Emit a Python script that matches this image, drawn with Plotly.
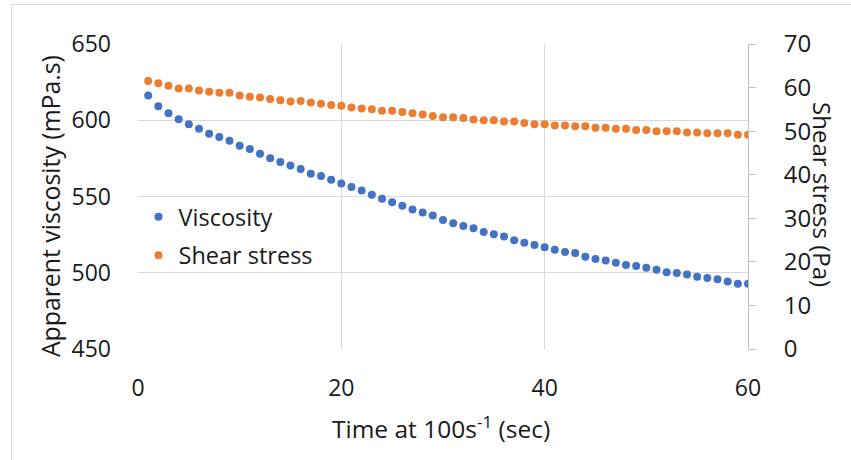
import plotly.graph_objects as go

time_s = list(range(1, 61))

viscosity = [
    616.2, 609.2, 604.6, 600.7, 597.4, 594.5, 591.2, 589.0, 586.6, 583.3,
    581.1, 578.1, 575.0, 572.6, 570.4, 568.0, 564.9, 563.4, 561.0, 558.6,
    556.3, 553.9, 551.1, 548.6, 546.3, 543.9, 541.4, 539.5, 537.5, 534.6,
    532.5, 530.7, 529.2, 526.8, 525.2, 523.7, 521.3, 519.7, 518.2, 516.7,
    515.1, 513.6, 512.9, 510.5, 509.0, 508.1, 506.6, 505.0, 504.4, 503.3,
    502.0, 500.4, 499.8, 498.9, 497.4, 496.5, 495.8, 494.3, 492.8, 492.8,
]

shear_stress = [
    61.5, 61.0, 60.4, 59.8, 59.8, 59.3, 59.05, 58.8, 58.8, 58.2,
    57.9, 57.7, 57.4, 57.1, 56.8, 56.9, 56.6, 56.3, 56.0, 55.8,
    55.45, 55.2, 55.0, 54.7, 54.7, 54.4, 54.1, 53.8, 53.5, 53.2,
    53.2, 53.0, 52.7, 52.5, 52.5, 52.2, 52.2, 51.85, 51.6, 51.6,
    51.3, 51.3, 51.1, 51.1, 50.8, 50.8, 50.55, 50.55, 50.25, 50.25,
    50.0, 50.0, 50.0, 49.7, 49.7, 49.5, 49.5, 49.5, 49.2, 49.2,
]

x_ticks = [0, 20, 40, 60]
y_left_ticks = [450, 500, 550, 600, 650]
y_right_ticks = [0, 10, 20, 30, 40, 50, 60, 70]

FONT = "Open Sans"
TXT = "#1a1a1a"
GRID = "#D9D9D9"

fig = go.Figure()
fig.add_trace(go.Scatter(
    x=time_s, y=viscosity, mode="markers", name="Viscosity",
    marker=dict(color="#4472C4", size=8), legendgroup="a",
))
fig.add_trace(go.Scatter(
    x=time_s, y=shear_stress, mode="markers", name="Shear stress",
    marker=dict(color="#ED7D31", size=8), yaxis="y2", legendgroup="b",
))

W, H = 851, 460
L, R, T, B = 137.5, 748, 44, 349
pw, ph = R - L, B - T


def px(x):
    return (x - L) / pw


def py(y):
    return (B - y) / ph


fig.update_layout(
    width=W, height=H,
    margin=dict(l=L, r=W - R, t=T, b=H - B, autoexpand=False),
    paper_bgcolor="white", plot_bgcolor="white",
    font=dict(family=FONT, size=23, color=TXT),
    xaxis=dict(
        range=[0, 60], tickvals=x_ticks, showgrid=True, gridcolor=GRID,
        gridwidth=1, zeroline=False, showline=False, ticks="",
        ticklabelstandoff=23, tickfont=dict(size=23, color=TXT),
    ),
    yaxis=dict(
        range=[450, 650], tickvals=y_left_ticks, showgrid=True, gridcolor=GRID,
        gridwidth=1, zeroline=False, showline=False, ticks="",
        ticklabelstandoff=26, tickfont=dict(size=23, color=TXT),
    ),
    yaxis2=dict(
        range=[0, 70], tickvals=y_right_ticks, overlaying="y", side="right",
        showgrid=False, zeroline=False, showline=True, linecolor="#BFBFBF",
        linewidth=1, ticks="outside", ticklen=7, tickcolor="#BFBFBF",
        ticklabelstandoff=23, tickfont=dict(size=24, color=TXT),
    ),
    showlegend=True,
    legend=dict(
        x=px(138), y=py(236.5), xanchor="left", yanchor="middle",
        bgcolor="rgba(255,255,255,0)", font=dict(size=23.5, color=TXT),
        traceorder="grouped", tracegroupgap=5, itemwidth=30,
    ),
    annotations=[
        dict(text="Apparent viscosity (mPa.s)", x=px(49), y=py(206.5),
             xref="paper", yref="paper", textangle=-90, showarrow=False,
             xanchor="center", yanchor="middle", font=dict(size=24.8, color=TXT)),
        dict(text="Shear stress (Pa)", x=px(822), y=py(195),
             xref="paper", yref="paper", textangle=90, showarrow=False,
             xanchor="center", yanchor="middle", font=dict(size=24, color=TXT)),
        dict(text="Time at 100s<sup>-1</sup> (sec)", x=px(441), y=py(427),
             xref="paper", yref="paper", showarrow=False,
             xanchor="center", yanchor="middle", font=dict(size=24.5, color=TXT)),
    ],
    shapes=[
        dict(type="rect", xref="paper", yref="paper",
             x0=px(11), x1=px(900), y0=py(520), y1=py(4.5),
             line=dict(color=GRID, width=1), fillcolor="rgba(0,0,0,0)",
             layer="below"),
    ],
)

fig.write_html(
    "out.html",
    config={"displayModeBar": False},
    post_script="document.body.style.margin='0';document.body.style.overflow='hidden';",
)
